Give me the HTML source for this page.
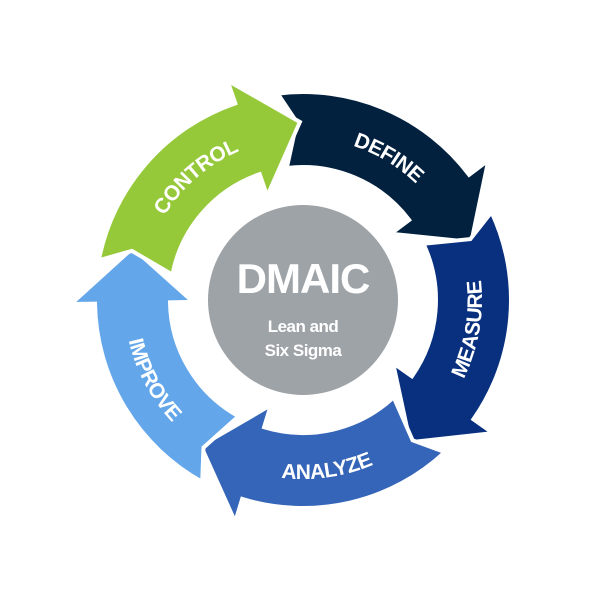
<!DOCTYPE html>
<html><head><meta charset="utf-8"><style>
html,body{margin:0;padding:0;background:#fff;width:600px;height:600px;overflow:hidden}
</style></head><body>
<svg id="s" width="600" height="600" viewBox="0 0 600 600" xmlns="http://www.w3.org/2000/svg">
<circle cx="303" cy="300" r="95" fill="#9ea3a8"/>
<text x="303" y="293" text-anchor="middle" font-family="Liberation Sans, sans-serif" font-weight="bold" font-size="42" letter-spacing="-1" fill="#fff">DMAIC</text>
<text x="303" y="332" text-anchor="middle" font-family="Liberation Sans, sans-serif" font-weight="bold" font-size="17" letter-spacing="-0.5" fill="#fff">Lean and</text>
<text x="303" y="356" text-anchor="middle" font-family="Liberation Sans, sans-serif" font-weight="bold" font-size="17" letter-spacing="-0.5" fill="#fff">Six Sigma</text>
</svg>
<script>
var s=document.getElementById('s'),cx=303,cy=300,NS='http://www.w3.org/2000/svg';
function P(r,a){a=a*Math.PI/180;return (cx+r*Math.cos(a)).toFixed(1)+' '+(cy+r*Math.sin(a)).toFixed(1);}
var arr=[
 {t:-97,c:'#02213f',l:'DEFINE',m:-59,cw:1},
 {t:-25,c:'#08307f',l:'MEASURE',m:10,cw:0},
 {t:47,c:'#3565b8',l:'ANALYZE',m:82,cw:0},
 {t:119,c:'#64a6ea',l:'IMPROVE',m:152,cw:0},
 {t:-169,c:'#96c93a',l:'CONTROL',m:-131,cw:1}
];
var RO=208,RI=133,HO=232,HI=110,RT=178;
arr.forEach(function(a,i){
 var t=a.t,b=t+60,tip=t+78;
 var d='M'+P(RO,t)+' A'+RO+' '+RO+' 0 0 1 '+P(RO,b)+' L'+P(HO,b)+' L'+P(RT,tip)+' L'+P(HI,b)+' L'+P(RI,b)+' A'+RI+' '+RI+' 0 0 0 '+P(RI,t)+' L'+P(RT,t+5)+' Z';
 var p=document.createElementNS(NS,'path');p.setAttribute('d',d);p.setAttribute('fill',a.c);p.setAttribute('stroke','#fff');p.setAttribute('stroke-width','4');p.setAttribute('stroke-linejoin','miter');
 s.appendChild(p);
 var id='tp'+i,tp=document.createElementNS(NS,'path'),r,pd;
 if(a.cw){r=162;pd='M'+P(r,a.m-45)+' A'+r+' '+r+' 0 0 1 '+P(r,a.m+45);}
 else{r=179;pd='M'+P(r,a.m+45)+' A'+r+' '+r+' 0 0 0 '+P(r,a.m-45);}
 tp.setAttribute('d',pd);tp.setAttribute('id',id);tp.setAttribute('fill','none');s.appendChild(tp);
 var tx=document.createElementNS(NS,'text');tx.setAttribute('font-family','Liberation Sans, sans-serif');tx.setAttribute('font-weight','bold');tx.setAttribute('font-size','21');tx.setAttribute('fill','#fff');tx.setAttribute('text-anchor','middle');tx.setAttribute('letter-spacing','-0.5');
 var q=document.createElementNS(NS,'textPath');q.setAttribute('href','#'+id);q.setAttributeNS('http://www.w3.org/1999/xlink','xlink:href','#'+id);q.setAttribute('startOffset','50%');q.textContent=a.l;tx.appendChild(q);s.appendChild(tx);
});
</script>
</body></html>
